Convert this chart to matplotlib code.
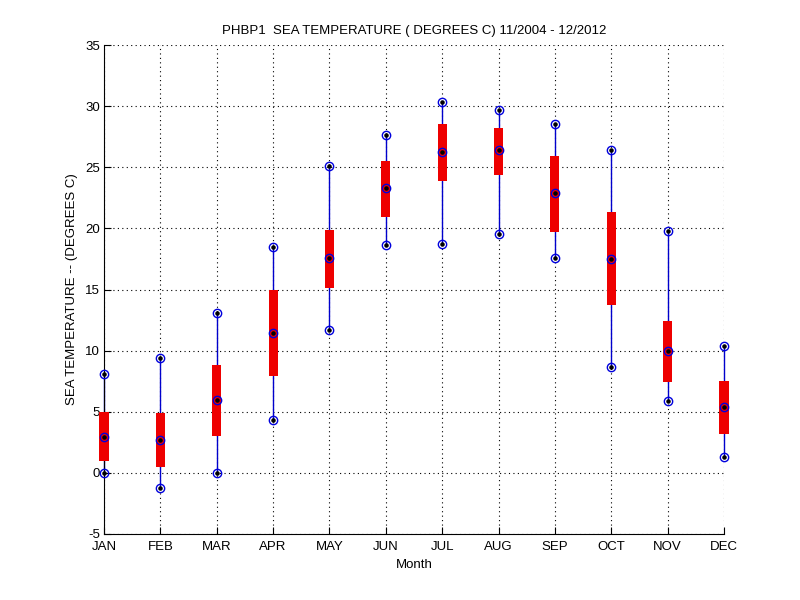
import matplotlib.pyplot as plt
import numpy as np

plt.rcParams['font.family'] = ['Liberation Sans', 'DejaVu Sans']
plt.rcParams['axes.unicode_minus'] = False

# monthly stats
months = ['JAN', 'FEB', 'MAR', 'APR', 'MAY', 'JUN',
          'JUL', 'AUG', 'SEP', 'OCT', 'NOV', 'DEC']
t_max = [8.1, 9.4, 13.1, 18.5, 25.1, 27.6, 30.3, 29.7, 28.5, 26.4, 19.8, 10.4]
t_q3 = [5.0, 4.9, 8.8, 15.0, 19.9, 25.5, 28.5, 28.25, 25.9, 21.3, 12.45, 7.5]
t_med = [2.95, 2.7, 6.0, 11.45, 17.55, 23.3, 26.25, 26.4, 22.9, 17.5, 10.0, 5.4]
t_q1 = [0.95, 0.45, 3.0, 7.95, 15.1, 20.95, 23.9, 24.4, 19.7, 13.75, 7.45, 3.15]
t_min = [0.0, -1.2, 0.0, 4.3, 11.7, 18.6, 18.7, 19.5, 17.6, 8.7, 5.9, 1.3]

x = np.arange(1, 13)

fig = plt.figure(figsize=(8, 6), dpi=100)
ax = fig.add_axes([0.13, 0.11, 0.775, 0.815])

# whiskers
ax.vlines(x, t_min, t_max, color='#0000cc', linewidth=1.0, zorder=2,
          clip_on=False)
# boxes
bars = ax.bar(x, np.array(t_q3) - np.array(t_q1), bottom=t_q1, width=0.16,
              color='#ee0000', zorder=3)
for b in bars:
    b.set_clip_on(False)
# markers at min / median / max
for vals in (t_min, t_med, t_max):
    ax.plot(x, vals, 'o', markerfacecolor='none', markeredgecolor='#0000dd',
            markersize=6, markeredgewidth=1.0, zorder=4, clip_on=False)
    ax.plot(x, vals, '.', color='black', markersize=4.5, zorder=5,
            clip_on=False)

ax.set_xlim(1, 12)
ax.set_ylim(-5, 35)
ax.set_xticks(x)
ax.set_xticklabels(months)
ax.set_yticks(np.arange(-5, 36, 5))

ax.grid(True, color='black', linestyle=(0, (1, 3)), linewidth=0.8)
ax.set_axisbelow(True)
for side in ('top', 'right'):
    ax.spines[side].set_visible(False)
ax.tick_params(direction='in', length=5, labelsize=9.5)
ax.tick_params(axis='x', pad=5)
ax.tick_params(axis='y', pad=3)

ax.set_title('PHBP1  SEA TEMPERATURE ( DEGREES C) 11/2004 - 12/2012',
             fontsize=9.5, pad=8)
ax.set_xlabel('Month', fontsize=9.5, labelpad=4)
ax.set_ylabel('SEA TEMPERATURE -- (DEGREES C)', fontsize=9.5, labelpad=5)

fig.savefig('out.png', dpi=100)
